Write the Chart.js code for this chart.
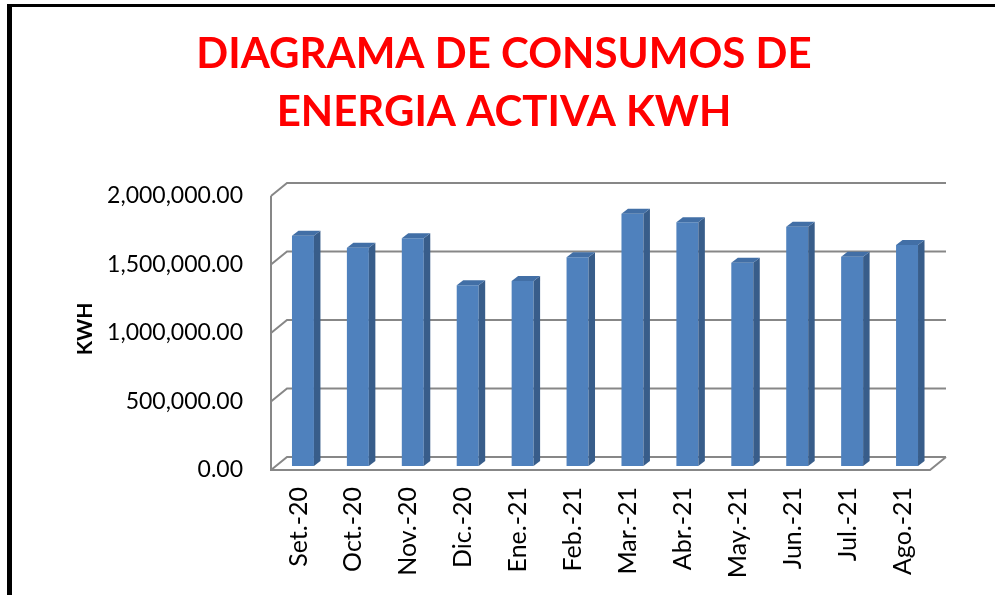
<!DOCTYPE html>
<html>
<head>
<meta charset="utf-8">
<script src="https://cdn.jsdelivr.net/npm/chart.js@4"></script>
<style>
  html, body { margin: 0; padding: 0; background: #fff; overflow: hidden; }
  #marco {
    position: absolute; left: 7px; top: 4px;
    width: 1200px; height: 800px;
    border-left: 5px solid #000; border-top: 3px solid #000;
  }
  #grafico { position: absolute; left: 0; top: 0; }
</style>
</head>
<body>
<div id="marco"></div>
<canvas id="grafico" width="995" height="595"></canvas>
<script>
// meses y consumo de energía activa (kWh)
const meses = ['Set.-20', 'Oct.-20', 'Nov.-20', 'Dic.-20', 'Ene.-21', 'Feb.-21',
               'Mar.-21', 'Abr.-21', 'May.-21', 'Jun.-21', 'Jul.-21', 'Ago.-21'];
const consumoKwh = [1681000, 1593000, 1662000, 1319000, 1350000, 1523000,
                    1842000, 1779000, 1484000, 1747000, 1528000, 1613000];
const marcasKwh = [0, 500000, 1000000, 1500000, 2000000];

const fuente = 'Lato, "Open Sans", sans-serif';
const colorFrente = '#4f81bd';
const colorLado = '#385d8a';
const colorTapa = '#426fa6';
const colorRejilla = '#878787';

// desplazamientos de la vista 3D (plano frontal / fondo respecto al plano de las barras)
const frente = { dx: -4.5, dy: 4 };
const fondo = { dx: 11.5, dy: -9 };
const prof = { dx: 6.5, dy: -5 };

const paredes3d = {
  id: 'paredes3d',
  beforeDatasetsDraw(chart) {
    const { ctx, chartArea: a, scales: { y } } = chart;
    ctx.save();
    ctx.strokeStyle = colorRejilla;
    ctx.lineWidth = 2;
    ctx.beginPath();
    marcasKwh.forEach(v => {
      const py = y.getPixelForValue(v);
      // pared lateral
      ctx.moveTo(a.left + frente.dx, py + frente.dy);
      ctx.lineTo(a.left + fondo.dx, py + fondo.dy);
      // pared del fondo
      ctx.lineTo(a.right + fondo.dx, py + fondo.dy);
    });
    const top = y.getPixelForValue(marcasKwh[marcasKwh.length - 1]);
    const base = y.getPixelForValue(0);
    ctx.moveTo(a.left + frente.dx, top + frente.dy);
    ctx.lineTo(a.left + frente.dx, base + frente.dy);
    // piso
    ctx.lineTo(a.right + frente.dx, base + frente.dy);
    ctx.lineTo(a.right + fondo.dx, base + fondo.dy);
    ctx.stroke();
    ctx.restore();
  },
  afterDatasetsDraw(chart) {
    const { ctx } = chart;
    ctx.save();
    chart.getDatasetMeta(0).data.forEach(bar => {
      const { x, y, base, width } = bar.getProps(['x', 'y', 'base', 'width'], true);
      const l = x - width / 2, r = x + width / 2;
      ctx.fillStyle = colorLado;
      ctx.beginPath();
      ctx.moveTo(r, y);
      ctx.lineTo(r + prof.dx, y + prof.dy);
      ctx.lineTo(r + prof.dx, base + prof.dy);
      ctx.lineTo(r, base);
      ctx.closePath();
      ctx.fill();
      ctx.fillStyle = colorTapa;
      ctx.beginPath();
      ctx.moveTo(l, y);
      ctx.lineTo(l + prof.dx, y + prof.dy);
      ctx.lineTo(r + prof.dx, y + prof.dy);
      ctx.lineTo(r, y);
      ctx.closePath();
      ctx.fill();
    });
    ctx.restore();
  }
};

new Chart(document.getElementById('grafico'), {
  type: 'bar',
  data: {
    labels: meses,
    datasets: [{
      label: 'KWH',
      data: consumoKwh,
      backgroundColor: colorFrente,
      borderWidth: 0,
      categoryPercentage: 1,
      barPercentage: 0.4
    }]
  },
  options: {
    responsive: false,
    animation: false,
    layout: { padding: { left: 13, right: 0, top: 0, bottom: 0 } },
    plugins: {
      legend: { display: false },
      tooltip: { enabled: false },
      title: {
        display: true,
        text: ['DIAGRAMA DE CONSUMOS DE', 'ENERGIA ACTIVA KWH'],
        color: '#ff0000',
        font: { family: fuente, size: 42, weight: 'bold', lineHeight: 58 / 42 },
        padding: { top: 25, bottom: 51 }
      }
    },
    scales: {
      x: {
        grid: { display: false, drawTicks: false },
        border: { display: false },
        ticks: {
          color: '#000',
          font: { family: fuente, size: 25 },
          minRotation: 90,
          maxRotation: 90,
          padding: 21,
          labelOffset: -4.5,
          autoSkip: false
        },
        afterFit(s) { s.height = 129; }
      },
      y: {
        min: 0,
        max: 2000000,
        grid: { display: false, drawTicks: false },
        border: { display: false },
        afterBuildTicks(s) { s.ticks = marcasKwh.map(v => ({ value: v })); },
        ticks: {
          color: '#000',
          font: { family: fuente, size: 23 },
          padding: 32.5,
          labelOffset: 4,
          callback: v => Number(v).toLocaleString('en-US', { minimumFractionDigits: 2, maximumFractionDigits: 2 })
        },
        title: {
          display: true,
          text: 'KWH',
          color: '#000',
          font: { family: fuente, size: 21, weight: 'bold', lineHeight: 1.2 },
          padding: { top: 60, bottom: 0 }
        },
        afterFit(s) { s.width = 262.5; }
      },
      // eje derecho vacío: solo reserva el margen a la derecha del gráfico
      margen: {
        type: 'linear',
        position: 'right',
        grid: { display: false, drawTicks: false },
        border: { display: false },
        ticks: { display: false },
        afterFit(s) { s.width = 60.5; }
      }
    }
  },
  plugins: [paredes3d]
});
</script>
</body>
</html>
